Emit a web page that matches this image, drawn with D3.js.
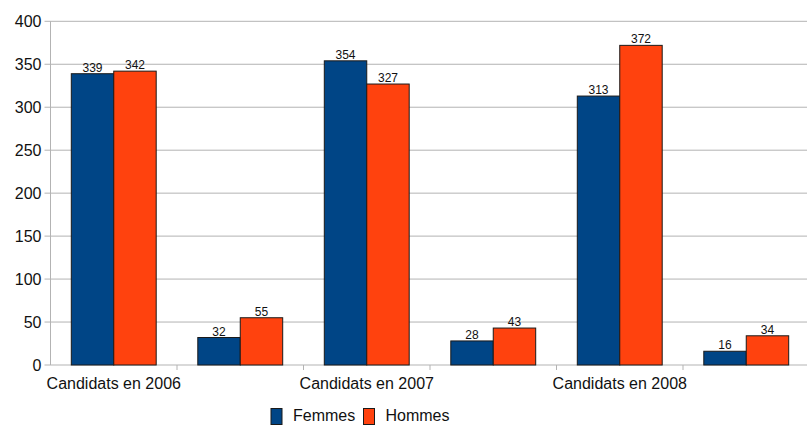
<!DOCTYPE html>
<html>
<head>
<meta charset="utf-8">
<script src="https://cdn.jsdelivr.net/npm/d3@7"></script>
<style>
  body { margin: 0; background: #fff; overflow: hidden; }
  svg { display: block; font-family: "Liberation Sans", Arial, sans-serif; }
</style>
</head>
<body>
<div id="chart"></div>
<script>
const categories = ["Candidats en 2006", "", "Candidats en 2007", "", "Candidats en 2008", ""];
const seriesNames = ["Femmes", "Hommes"];
const femmes = [339, 32, 354, 28, 313, 16];
const hommes = [342, 55, 327, 43, 372, 34];
const yTicks = [0, 50, 100, 150, 200, 250, 300, 350, 400];

const width = 807;
const height = 425;
const margin = { top: 21.3, right: -2.5, bottom: 60, left: 50.5 };
const innerWidth = width - margin.left - margin.right;
const innerHeight = 365 - margin.top;
const visibleRight = width - margin.left;

const colors = ["#004586", "#ff420e"];
const gridColor = "#b3b3b3";

const xScale = d3.scaleBand()
    .domain(d3.range(categories.length))
    .range([0, innerWidth])
    .padding(0);

const innerScale = d3.scaleBand()
    .domain(seriesNames)
    .range([0, xScale.bandwidth()])
    .paddingOuter(0.49)
    .paddingInner(0);

const yScale = d3.scaleLinear()
    .domain([0, 400])
    .range([innerHeight, 0]);

const rows = categories.map((c, i) => ({ i, values: [femmes[i], hommes[i]] }));

const svg = d3.select("#chart")
    .append("svg")
    .attr("width", width)
    .attr("height", height);

const innerChart = svg.append("g")
    .attr("transform", `translate(${margin.left}, ${margin.top})`);

// grid lines
innerChart.selectAll(".grid")
    .data(yTicks)
    .join("line")
    .attr("class", "grid")
    .attr("x1", -6)
    .attr("x2", visibleRight)
    .attr("y1", d => yScale(d))
    .attr("y2", d => yScale(d))
    .attr("stroke", gridColor);

// y axis labels
const yAxis = innerChart.append("g")
    .attr("class", "y-axis")
    .call(d3.axisLeft(yScale).tickValues(yTicks).tickSize(0).tickPadding(9));
yAxis.select(".domain").remove();
yAxis.selectAll("text")
    .attr("fill", "#111")
    .style("font-size", "16px");

innerChart.append("line")
    .attr("x1", 0).attr("x2", 0)
    .attr("y1", 0).attr("y2", innerHeight)
    .attr("stroke", gridColor);

// x axis labels (only the named categories)
const xAxis = innerChart.append("g")
    .attr("class", "x-axis")
    .attr("transform", `translate(0, ${innerHeight})`)
    .call(d3.axisBottom(xScale)
        .tickValues(d3.range(categories.length).filter(i => categories[i]))
        .tickSize(0).tickPadding(13)
        .tickFormat(i => categories[i]));
xAxis.select(".domain").remove();
xAxis.selectAll("text")
    .attr("fill", "#111")
    .style("font-size", "16px");

// band boundary ticks
innerChart.selectAll(".band-tick")
    .data(d3.range(1, categories.length))
    .join("line")
    .attr("class", "band-tick")
    .attr("x1", i => xScale(i))
    .attr("x2", i => xScale(i))
    .attr("y1", innerHeight)
    .attr("y2", innerHeight + 5)
    .attr("stroke", gridColor);

// bars
const groups = innerChart.selectAll(".cat")
    .data(rows)
    .join("g")
    .attr("class", "cat")
    .attr("transform", d => `translate(${xScale(d.i)}, 0)`);

groups.selectAll("rect")
    .data(d => d.values.map((v, k) => ({ v, k })))
    .join("rect")
    .attr("x", d => innerScale(seriesNames[d.k]))
    .attr("width", innerScale.bandwidth())
    .attr("y", d => yScale(d.v))
    .attr("height", d => innerHeight - yScale(d.v))
    .attr("fill", d => colors[d.k])
    .attr("stroke", "#1a1a1a")
    .attr("stroke-width", 1);

groups.selectAll(".value")
    .data(d => d.values.map((v, k) => ({ v, k })))
    .join("text")
    .attr("class", "value")
    .attr("x", d => innerScale(seriesNames[d.k]) + innerScale.bandwidth() / 2)
    .attr("y", d => yScale(d.v) - 2)
    .attr("text-anchor", "middle")
    .attr("fill", "#111")
    .style("font-size", "12px")
    .text(d => d.v);

// legend
const legend = svg.append("g")
    .attr("transform", "translate(271, 408.5)");
const legendX = [0, 92.5];
seriesNames.forEach((name, k) => {
    const item = legend.append("g").attr("transform", `translate(${legendX[k]}, 0)`);
    item.append("rect")
        .attr("width", 11).attr("height", 16)
        .attr("fill", colors[k])
        .attr("stroke", "#1a1a1a");
    item.append("text")
        .attr("x", 22).attr("y", 12.5)
        .attr("fill", "#111")
        .style("font-size", "16px")
        .text(name);
});
</script>
</body>
</html>
